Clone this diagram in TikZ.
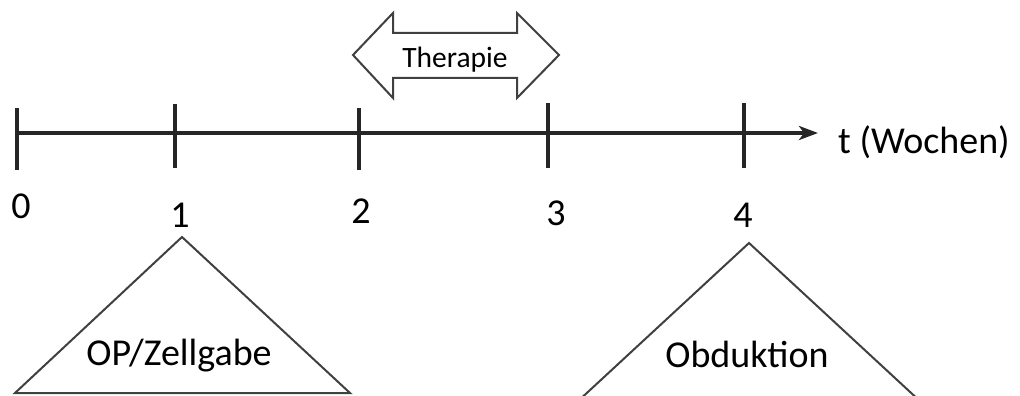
\documentclass[tikz,border=0pt]{standalone}
\usepackage{fontspec}
\setmainfont{Carlito}
\usetikzlibrary{arrows.meta}
\tikzset{
	lbl/.style={inner sep=0pt, anchor=base, font=\fontsize{38}{40}\selectfont},
	tick/.style={line width=4pt, black!85},
	outline/.style={line width=2pt, black!75, line join=miter}
}
\begin{document}
\begin{tikzpicture}[x=1pt, y=-1pt]
				\useasboundingbox (0,0) rectangle (1020,396);

				% Axis
				\coordinate (start) at (17,133);
				\coordinate (end) at (818,133);
				\draw[tick, -{Stealth[length=19pt, width=14pt, inset=5pt]}] (start) -- (end);
				\draw[tick] (17,108) -- (17,170);
				\draw[tick] (175,104) -- (175,168);
				\draw[tick] (359,108) -- (359,170);
				\draw[tick] (548,103) -- (548,168);
				\draw[tick] (744,103) -- (744,168);
				\node[lbl, anchor=base west] (unit) at (838,153) {t (Wochen)};

				% Weeks
				\node[lbl] (w0) at (21,218) {0};
				\node[lbl] (w1) at (180,227) {1};
				\node[lbl] (w2) at (361,223) {2};
				\node[lbl] (w3) at (556,225) {3};
				\node[lbl] (w4) at (743,227) {4};

				% Therapie
				\draw[outline, fill=white] (353,55) -- (393,13) -- (393,33) -- (517,33) -- (517,13)
					-- (559,55) -- (517,98) -- (517,78) -- (393,78) -- (393,98) -- cycle;
				\node[lbl, font=\fontsize{29.5}{31}\selectfont] (ther) at (455,67) {Therapie};

				% OP/Zellgabe
				\draw[outline] (182,237) -- (350,393) -- (15,393) -- cycle;
				\node[lbl] (op) at (179,365) {OP/Zellgabe};

				% Obduktion
				\draw[outline] (749,243) -- (922,403) -- (576,403) -- cycle;
				\node[lbl] (obd) at (747,367) {Obduktion};
			\end{tikzpicture}
\end{document}
